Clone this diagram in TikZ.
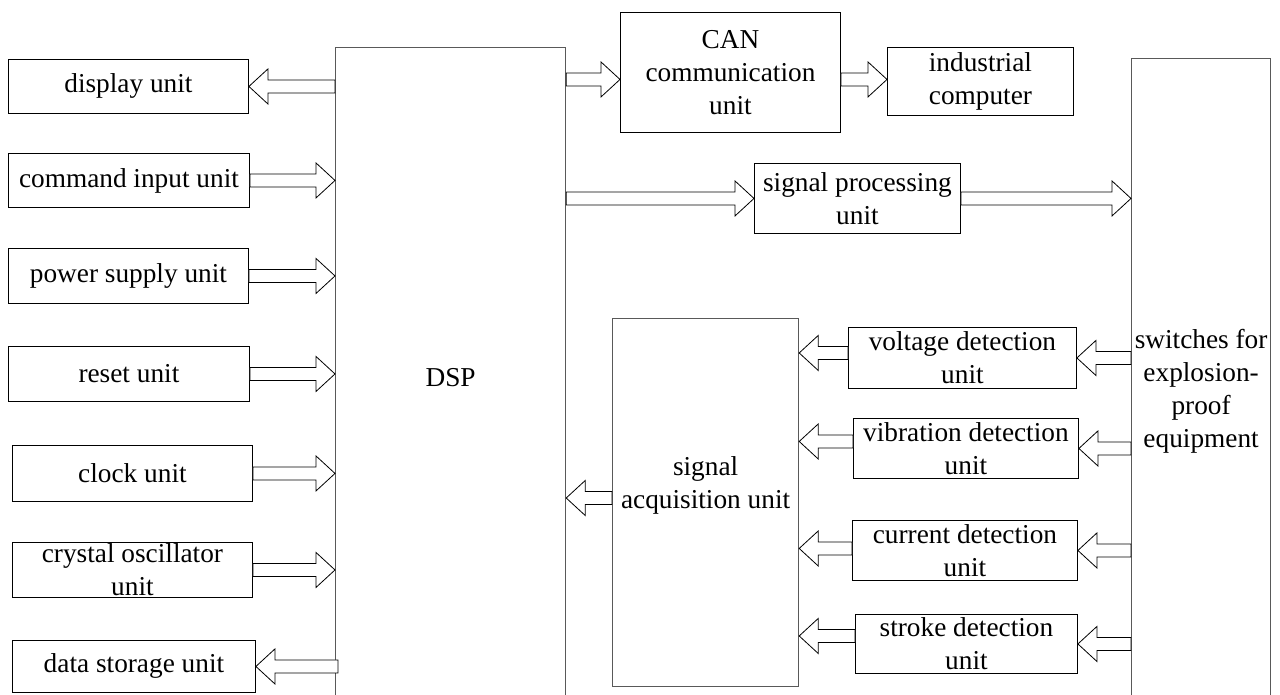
\documentclass[tikz,border=0pt]{standalone}
\usepackage{fontspec}
\setmainfont{Liberation Serif}
\usetikzlibrary{calc}
\tikzset{
  box/.style={draw=black, line width=0.9pt, anchor=north west, inner sep=0pt, align=center,
    font=\fontsize{27.3}{33}\selectfont},
  bigbox/.style={box, draw=black!65, line width=1.2pt},
  txt/.style={inner sep=0pt, align=center, font=\fontsize{27.3}{33}\selectfont},
  blockarr/.style={draw=black, line width=0.8pt, fill=white, line join=miter},
}
\newcommand\barrow[2]{%
  \draw[blockarr] let \p1=#1, \p2=#2, \n1={sign(\x2-\x1)} in
    (\x1,\y2+6.5pt) -- (\x2-\n1*19pt,\y2+6.5pt) -- (\x2-\n1*19pt,\y2+17.5pt) --
    (\x2,\y2) -- (\x2-\n1*19pt,\y2-17.5pt) -- (\x2-\n1*19pt,\y2-6.5pt) --
    (\x1,\y2-6.5pt) -- cycle;}
\begin{document}
\begin{tikzpicture}[x=1pt,y=-1pt]
\useasboundingbox (0,0) rectangle (1280,695);
\fill[white] (0,0) rectangle (1280,695);
\clip (0,0) rectangle (1280,695);

% left column
\node[box, minimum width=240, minimum height=54] (disp) at (8,59) {display unit};
\node[box, minimum width=241, minimum height=54] (cmd) at (8,153) {command input unit};
\node[box, minimum width=240, minimum height=55] (pwr) at (8,248) {power supply unit};
\node[box, minimum width=241, minimum height=55] (rst) at (8,346) {reset unit};
\node[box, minimum width=240, minimum height=56] (clk) at (12,445) {clock unit};
\node[box, minimum width=240, minimum height=55] (xtal) at (12,542) {crystal oscillator\\unit};
\node[box, minimum width=243, minimum height=52] (store) at (12,640) {data storage unit};

% DSP
\node[bigbox, minimum width=230, minimum height=660] (dsp) at (335,47) {DSP};

% top
\node[box, minimum width=220, minimum height=120] (can) at (620,12) {CAN\\communication\\unit};
\node[box, minimum width=186, minimum height=68] (ind) at (887,47) {industrial\\computer};
\node[box, minimum width=206, minimum height=70] (sp) at (754,163) {signal processing\\unit};

% right
\node[bigbox, minimum width=139, minimum height=666] (sw) at (1131,58) {switches for\\explosion-\\proof\\equipment};
\node[bigbox, minimum width=186, minimum height=368] (acq) at (612,318) {};
\node[txt] (acqtxt) at ($(acq.center)+(0,-17)$) {signal\\acquisition unit};

\node[box, minimum width=228, minimum height=61] (volt) at (848,327) {voltage detection\\unit};
\node[box, minimum width=225, minimum height=60] (vib) at (853,418) {vibration detection\\unit};
\node[box, minimum width=225, minimum height=60] (cur) at (852,520) {current detection\\unit};
\node[box, minimum width=222, minimum height=59] (strk) at (855,614) {stroke detection\\unit};

% arrows left column
\barrow{(dsp.west |- disp.east)}{(disp.east)}
\barrow{(cmd.east)}{(dsp.west |- cmd.east)}
\barrow{(pwr.east)}{(dsp.west |- pwr.east)}
\barrow{(rst.east)}{(dsp.west |- rst.east)}
\barrow{(clk.east)}{(dsp.west |- clk.east)}
\barrow{(xtal.east)}{(dsp.west |- xtal.east)}
\barrow{($(dsp.west |- store.east)+(3,0)$)}{(store.east)}

% top arrows
\barrow{($(dsp.east |- can.west)+(0,7)$)}{($(can.west)+(0,7)$)}
\barrow{($(can.east |- ind.west)+(0,-2)$)}{($(ind.west)+(0,-2)$)}
\barrow{(dsp.east |- sp.west)}{(sp.west)}
\barrow{(sp.east)}{(sw.west |- sp.east)}

% detection arrows
\barrow{(sw.west |- volt.east)}{(volt.east)}
\barrow{(sw.west |- vib.east)}{(vib.east)}
\barrow{(sw.west |- cur.east)}{(cur.east)}
\barrow{(sw.west |- strk.east)}{(strk.east)}
\barrow{($(volt.west)+(0,-5)$)}{($(acq.east |- volt.west)+(0,-5)$)}
\barrow{($(vib.west)+(0,-7)$)}{($(acq.east |- vib.west)+(0,-7)$)}
\barrow{($(cur.west)+(0,-2)$)}{($(acq.east |- cur.west)+(0,-2)$)}
\barrow{($(strk.west)+(0,-8)$)}{($(acq.east |- strk.west)+(0,-8)$)}

% acquisition to DSP
\barrow{(acq.west |- 0,498)}{(dsp.east |- 0,498)}
\end{tikzpicture}
\end{document}
